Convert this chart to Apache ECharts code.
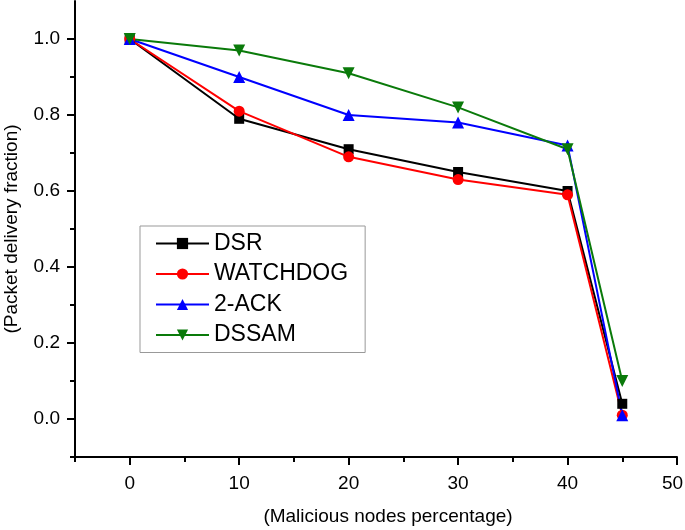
<!DOCTYPE html>
<html>
<head>
<meta charset="utf-8">
<script src="https://cdn.jsdelivr.net/npm/echarts@6/dist/echarts.min.js"></script>
<style>html,body{margin:0;padding:0;background:#fff}#c{width:685px;height:530px}</style>
</head>
<body>
<div id="c"></div>
<script>
const xValues = [0, 10, 20, 30, 40, 45];
const dsr = [1.0, 0.79, 0.71, 0.65, 0.60, 0.04];
const watchdog = [1.0, 0.81, 0.69, 0.63, 0.59, 0.01];
const ack2 = [1.0, 0.90, 0.80, 0.78, 0.72, 0.01];
const dssam = [1.0, 0.97, 0.91, 0.82, 0.71, 0.10];
const seriesNames = ['DSR', 'WATCHDOG', '2-ACK', 'DSSAM'];
const xMajor = [0, 10, 20, 30, 40, 50];
const xMinor = [-5, 5, 15, 25, 35, 45];
const yMajor = [0, 0.2, 0.4, 0.6, 0.8, 1.0];
const yMinor = [-0.1, 0.1, 0.3, 0.5, 0.7, 0.9];

const FONT = 'Liberation Sans, Arial, sans-serif';
const pair = (ys) => xValues.map((x, i) => [x, ys[i]]);

const chart = echarts.init(document.getElementById('c'), null, {renderer: 'canvas'});
const axisLine = {show: true, onZero: false, lineStyle: {color: '#000', width: 2}};
const tickStyle = {color: '#000', width: 2};
chart.setOption({
  animation: false,
  backgroundColor: '#fff',
  grid: {left: 75, right: 8, top: 1, bottom: 73, containLabel: false, outerBoundsMode: 'none'},
  legend: {
    orient: 'vertical', left: 140, top: 226,
    borderColor: '#999', borderWidth: 1, padding: [6, 17, 6, 15],
    itemWidth: 53, itemHeight: 14, itemGap: 7.5,
    textStyle: {fontFamily: FONT, fontSize: 23, color: '#000'},
    data: seriesNames
  },
  xAxis: [{
    type: 'value', min: -5, max: 50,
    name: '(Malicious nodes percentage)', nameLocation: 'middle', nameGap: 50,
    nameTextStyle: {fontFamily: FONT, fontSize: 19, color: '#000', padding: [0, 0, 0, 24]},
    axisLine: axisLine,
    axisTick: {show: true, length: 8, lineStyle: tickStyle, customValues: xMajor},
    axisLabel: {fontFamily: FONT, fontSize: 19, color: '#000', margin: 17, customValues: xMajor,
      formatter: v => v === xMajor[xMajor.length - 1] ? '{m|' + v + '}' : String(v),
      rich: {m: {fontFamily: FONT, fontSize: 19, color: '#000', padding: [0, 9, 0, 0]}}},
    splitLine: {show: false}
  }, {
    type: 'value', min: -5, max: 50, position: 'bottom',
    axisLine: {show: false, onZero: false},
    axisTick: {show: true, length: 5, lineStyle: tickStyle, customValues: xMinor},
    axisLabel: {show: false},
    splitLine: {show: false}
  }],
  yAxis: [{
    type: 'value', min: -0.1, max: 1.1,
    name: '(Packet delivery fraction)', nameLocation: 'middle', nameGap: 54,
    nameTextStyle: {fontFamily: FONT, fontSize: 19, color: '#000'},
    axisLine: axisLine,
    axisTick: {show: true, length: 8, lineStyle: tickStyle, customValues: yMajor},
    axisLabel: {fontFamily: FONT, fontSize: 19, color: '#000', margin: 15, customValues: yMajor,
      formatter: v => v.toFixed(1)},
    splitLine: {show: false}
  }, {
    type: 'value', min: -0.1, max: 1.1, position: 'left',
    axisLine: {show: false, onZero: false},
    axisTick: {show: true, length: 5, lineStyle: tickStyle, customValues: yMinor},
    axisLabel: {show: false},
    splitLine: {show: false}
  }],
  series: [
    {name: 'DSR', type: 'line', data: pair(dsr), symbol: 'rect', symbolSize: 10,
      itemStyle: {color: '#000'}, lineStyle: {color: '#000', width: 2}},
    {name: 'WATCHDOG', type: 'line', data: pair(watchdog), symbol: 'circle', symbolSize: 11,
      itemStyle: {color: '#ff0000'}, lineStyle: {color: '#ff0000', width: 2}},
    {name: '2-ACK', type: 'line', data: pair(ack2), symbol: 'triangle', symbolSize: 12,
      itemStyle: {color: '#0000ff'}, lineStyle: {color: '#0000ff', width: 2}},
    {name: 'DSSAM', type: 'line', data: pair(dssam), symbol: 'path://M0,0 L10,0 L5,9 Z', symbolSize: 12,
      itemStyle: {color: '#0a7a0a'}, lineStyle: {color: '#0a7a0a', width: 2}}
  ]
});
</script>
</body>
</html>
